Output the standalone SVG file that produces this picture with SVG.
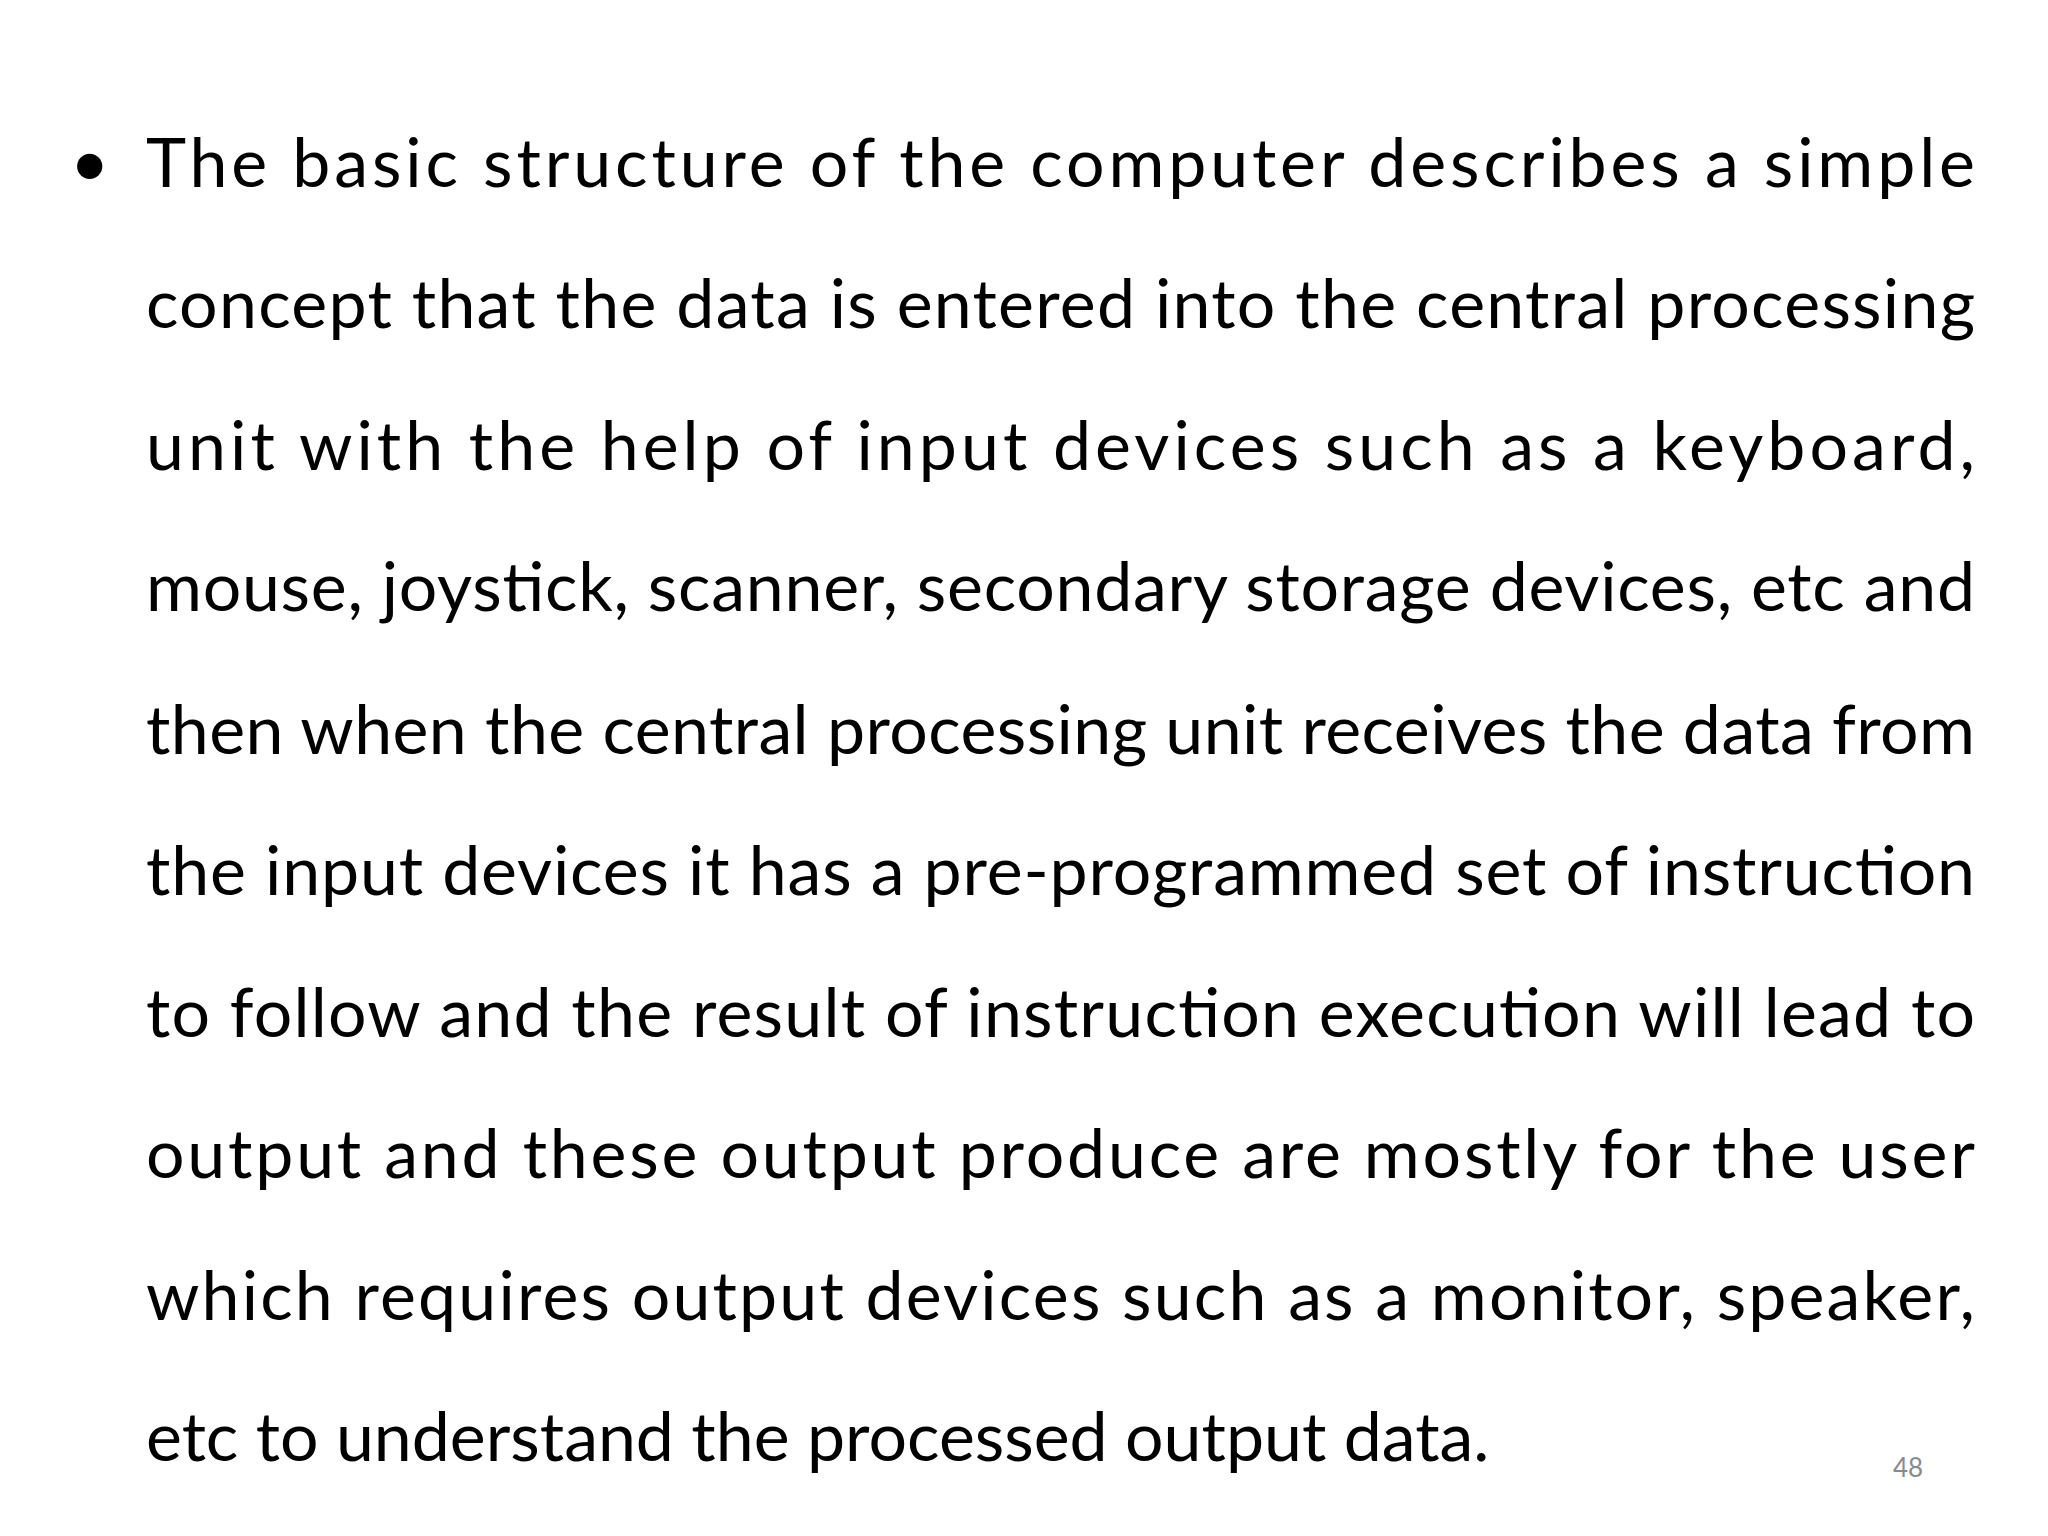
<svg xmlns="http://www.w3.org/2000/svg" width="2048" height="1536" viewBox="0 0 2048 1536">
<style>
.t{font-family:Lato,"Noto Sans","Liberation Sans",sans-serif;font-size:68px;fill:#000}
.n{font-family:Lato,"Liberation Sans",sans-serif;font-size:26px;fill:#8a8a8a}
</style>
<rect width="2048" height="1536" fill="#fff"/>
<text class="t" x="70" y="187">•</text>
<text class="t" x="146" y="187" textLength="1829" lengthAdjust="spacing">The basic structure of the computer describes a simple</text>
<text class="t" x="146" y="328" textLength="1829" lengthAdjust="spacing">concept that the data is entered into the central processing</text>
<text class="t" x="146" y="470" textLength="1829" lengthAdjust="spacing">unit with the help of input devices such as a keyboard,</text>
<text class="t" x="146" y="611" textLength="1829" lengthAdjust="spacing">mouse, joystick, scanner, secondary storage devices, etc and</text>
<text class="t" x="146" y="754" textLength="1829" lengthAdjust="spacing">then when the central processing unit receives the data from</text>
<text class="t" x="146" y="895" textLength="1829" lengthAdjust="spacing">the input devices it has a pre-programmed set of instruction</text>
<text class="t" x="146" y="1037" textLength="1829" lengthAdjust="spacing">to follow and the result of instruction execution will lead to</text>
<text class="t" x="146" y="1178" textLength="1829" lengthAdjust="spacing">output and these output produce are mostly for the user</text>
<text class="t" x="146" y="1320" textLength="1829" lengthAdjust="spacing">which requires output devices such as a monitor, speaker,</text>
<text class="t" x="146" y="1461">etc to understand the processed output data.</text>
<text class="n" x="1893" y="1477">48</text>
</svg>
